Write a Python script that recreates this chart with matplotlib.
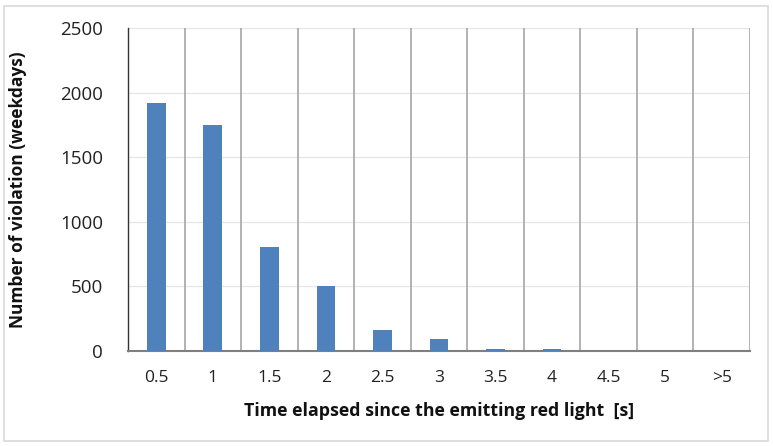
import matplotlib
matplotlib.use("Agg")
import matplotlib.pyplot as plt
from matplotlib.patches import Rectangle
import numpy as np

categories = ["0.5", "1", "1.5", "2", "2.5", "3", "3.5", "4", "4.5", "5", ">5"]
violations = [1918, 1750, 803, 500, 160, 95, 15, 15, 0, 0, 0]
y_ticks = [0, 500, 1000, 1500, 2000, 2500]

plt.rcParams["font.family"] = ["Open Sans", "DejaVu Sans"]

fig = plt.figure(figsize=(7.73, 4.46), dpi=100)
ax = fig.add_axes([128 / 773, 1 - 351 / 446, (750 - 128) / 773, (351 - 28) / 446])

x = np.arange(len(categories))
ax.bar(x, violations, width=0.33, color="#4f81bd", zorder=3)

ax.set_xlim(-0.5, len(categories) - 0.5)
ax.set_ylim(0, 2500)
ax.set_yticks(y_ticks)
ax.set_yticklabels([str(v) for v in y_ticks], fontsize=13.5, color="#222222")
ax.set_xticks(x)
ax.set_xticklabels(categories, fontsize=12.5, color="#222222")
ax.tick_params(axis="both", length=0)
ax.tick_params(axis="x", pad=14)
ax.tick_params(axis="y", pad=18)

# light horizontal grid
for v in y_ticks[1:]:
    ax.axhline(v, color="#e6e6e6", lw=0.9, zorder=1)
# category separators
for b in np.arange(0.5, len(categories) - 0.5 + 0.01, 1.0):
    ax.axvline(b, color="#a6a6a6", lw=1.2, zorder=2)

for side in ["top", "right"]:
    ax.spines[side].set_visible(False)
ax.spines["left"].set_color("#333333")
ax.spines["left"].set_linewidth(1.0)
ax.spines["bottom"].set_color("#7f7f7f")
ax.spines["bottom"].set_linewidth(1.5)

ax.set_xlabel("Time elapsed since the emitting red light  [s]", fontsize=12.8,
              fontweight="bold", color="#111111")
ax.set_ylabel("Number of violation (weekdays)", fontsize=12.5,
              fontweight="bold", color="#111111")
ax.xaxis.set_label_coords(0.5, (351 - 411) / 323, transform=ax.transAxes)
ax.yaxis.set_label_coords((18 - 128) / 622, 0.5, transform=ax.transAxes)
ax.xaxis.label.set_va("center")
ax.yaxis.label.set_va("center")

# outer frame
fig.patches.append(Rectangle((4 / 773, 1 - 441 / 446), (768 - 4) / 773, (441 - 6) / 446,
                             transform=fig.transFigure, fill=False,
                             edgecolor="#d9d9d9", lw=1.2))

fig.savefig("out.png", dpi=100)
